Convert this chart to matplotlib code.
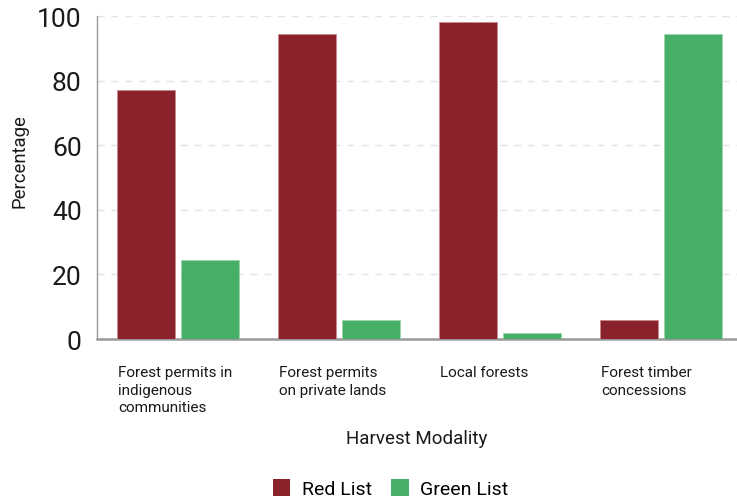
import matplotlib
matplotlib.use("Agg")
import numpy as np
from matplotlib import pyplot as plt
from matplotlib.patches import Patch

plt.rcParams['font.family'] = ['Roboto', 'DejaVu Sans']

# data
categories = ["Forest permits in\nindigenous\ncommunities",
              "Forest permits\non private lands",
              "Local forests",
              "Forest timber\nconcessions"]
red_list = [77, 94.5, 98, 6]
green_list = [24.5, 6, 2, 94.5]
series_names = ["Red List", "Green List"]
yticks = [0, 20, 40, 60, 80, 100]

red_color = "#8a222b"
green_color = "#46ae67"

fig = plt.figure(figsize=(7.37, 5.02), dpi=100)
ax = fig.add_axes([0.1316, 0.3227, 0.874, 0.6434])

x = np.arange(len(categories))
w = 0.36
ax.bar(x - 0.196, red_list, w, color=red_color, edgecolor="#c98a90", linewidth=0.6, zorder=3)
ax.bar(x + 0.2, green_list, w, color=green_color, edgecolor="#9ad6ab", linewidth=0.6, zorder=3)

ax.set_xlim(-0.5, 3.5)
ax.set_ylim(0, 100)
ax.set_yticks(yticks)
ax.set_xticks([])
ax.tick_params(axis="y", length=0, pad=11, labelsize=19, labelcolor="#1a1a1a")
ax.grid(axis="y", color="#e3e3e3", linestyle=(0, (5, 5)), linewidth=1, zorder=0)

for s in ["top", "right"]:
    ax.spines[s].set_visible(False)
ax.spines["left"].set_color("#999999")
ax.spines["left"].set_linewidth(1)
ax.spines["bottom"].set_color("#999999")
ax.spines["bottom"].set_linewidth(1.8)

# category labels, left aligned under the red bar
trans = ax.get_xaxis_transform()
for i, lab in enumerate(categories):
    ax.text(i - 0.37, -0.082, lab, transform=trans, ha="left", va="top",
            fontsize=11, color="#1a1a1a", linespacing=1.3)

ax.text(0.497, -0.305, "Harvest Modality", transform=ax.transAxes, ha="center",
        va="center", fontsize=13.5, color="#1a1a1a")
fig.text(0.027, 0.357 + 0.3227, "Percentage", rotation=90, ha="center",
         va="center", fontsize=13.3, color="#1a1a1a")

handles = [Patch(facecolor=red_color, edgecolor="none"),
           Patch(facecolor=green_color, edgecolor="none")]
fig.legend(handles, series_names, loc="center", bbox_to_anchor=(0.53, 0.025),
           ncol=2, frameon=False, fontsize=14, handlelength=0.9,
           handleheight=0.95, handletextpad=0.6, columnspacing=1.0)

fig.savefig("out.png", dpi=100)
